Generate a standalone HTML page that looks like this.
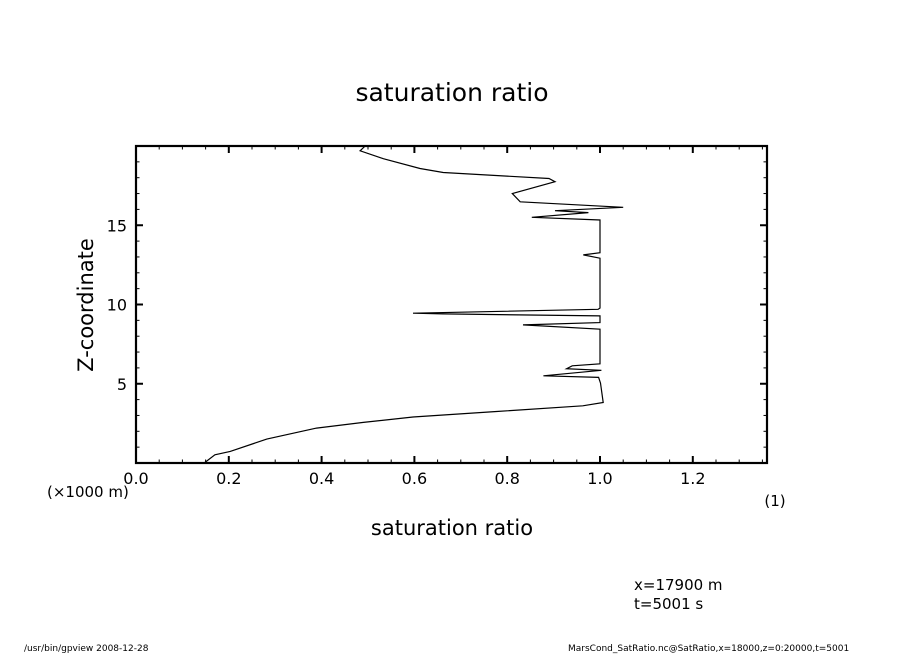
<!DOCTYPE html>
<html><head><meta charset="utf-8"><style>
body{margin:0;background:#fff;}
svg{display:block;font-family:"DejaVu Sans","Liberation Sans",sans-serif;}
</style></head><body>
<svg width="904" height="654" viewBox="0 0 904 654">
<text x="452" y="101" font-size="25" text-anchor="middle">saturation ratio</text>
<g id="axes"></g>
<polyline id="line" fill="none" stroke="#000" stroke-width="1.2"/>
<text x="93" y="305" font-size="21" text-anchor="middle" transform="rotate(-90 93 305)">Z-coordinate</text>
<text x="47" y="497" font-size="15">(×1000 m)</text>
<text x="775" y="506" font-size="15" text-anchor="middle">(1)</text>
<text x="452" y="535" font-size="21" text-anchor="middle">saturation ratio</text>
<text x="634" y="590" font-size="15">x=17900 m</text>
<text x="634" y="609" font-size="15">t=5001 s</text>
<text x="24" y="651" font-size="9">/usr/bin/gpview   2008-12-28</text>
<text x="568" y="651" font-size="9">MarsCond_SatRatio.nc@SatRatio,x=18000,z=0:20000,t=5001</text>
</svg>
<script>
const xTicks=[0,0.2,0.4,0.6,0.8,1.0,1.2];
const xTickLabels=["0.0","0.2","0.4","0.6","0.8","1.0","1.2"];
const yTicks=[5,10,15];
const yTickLabels=["5","10","15"];
const satValues=[0.147,0.170,0.203,0.282,0.389,0.49,0.597,0.777,0.963,1.007,1.001,0.997,0.878,1.003,0.928,0.94,1.0,1.0,0.834,1.0,1.0,0.662,0.597,0.996,1.0,1.0,0.964,1.0,1.0,0.853,0.975,0.903,1.05,0.828,0.811,0.903,0.89,0.662,0.612,0.533,0.483,0.494];
const zValues=[0.0,0.52,0.73,1.51,2.2,2.56,2.9,3.25,3.61,3.82,5.04,5.4,5.5,5.85,5.95,6.13,6.26,8.44,8.71,8.86,9.28,9.41,9.45,9.7,9.77,12.92,13.13,13.27,15.33,15.5,15.8,15.92,16.13,16.48,17.0,17.75,17.95,18.33,18.58,19.2,19.7,20.0];
const L=136,R=767,T=146,B=463;
const xMin=0,xMax=(R-L)/464,yMin=0,yMax=20;
const sx=v=>L+(v-xMin)/(xMax-xMin)*(R-L);
const sy=v=>B-(v-yMin)/(yMax-yMin)*(B-T);
const NS="http://www.w3.org/2000/svg";
const g=document.getElementById('axes');
function mk(t,a){const e=document.createElementNS(NS,t);for(const k in a)e.setAttribute(k,a[k]);g.appendChild(e);return e;}
const fr=mk('rect',{x:L,y:T,width:R-L,height:B-T,fill:'none',stroke:'#000','stroke-width':2.2});


for(let i=0;i*0.05<=xMax+1e-9;i++){const v=i*0.05,x=sx(v),len=(i%4===0)?7:3.5;
 const a=mk('line',{x1:x,y1:B,x2:x,y2:B-len,stroke:'#000','stroke-width':i%4===0?2:1});
 
 
 const b=mk('line',{x1:x,y1:T,x2:x,y2:T+len,stroke:'#000','stroke-width':i%4===0?2:1});
 
 }
for(let v=1;v<20;v++){const y=sy(v),len=(v%5===0)?7:3.5;
 const a=mk('line',{x1:L,y1:y,x2:L+len,y2:y,stroke:'#000','stroke-width':v%5===0?2:1});
 
 
 const b=mk('line',{x1:R,y1:y,x2:R-len,y2:y,stroke:'#000','stroke-width':v%5===0?2:1});
 
 }
xTicks.forEach((v,i)=>{const t=mk('text',{x:sx(v),y:B+21,'font-size':16,'text-anchor':'middle'});t.textContent=xTickLabels[i];
 
 });
yTicks.forEach((v,i)=>{const t=mk('text',{x:L-9,y:sy(v)+6,'font-size':16,'text-anchor':'end'});t.textContent=yTickLabels[i];
 
 });
document.getElementById('line').setAttribute('points',satValues.map((v,i)=>sx(v).toFixed(1)+','+sy(zValues[i]).toFixed(1)).join(' '));
</script>
</body></html>
